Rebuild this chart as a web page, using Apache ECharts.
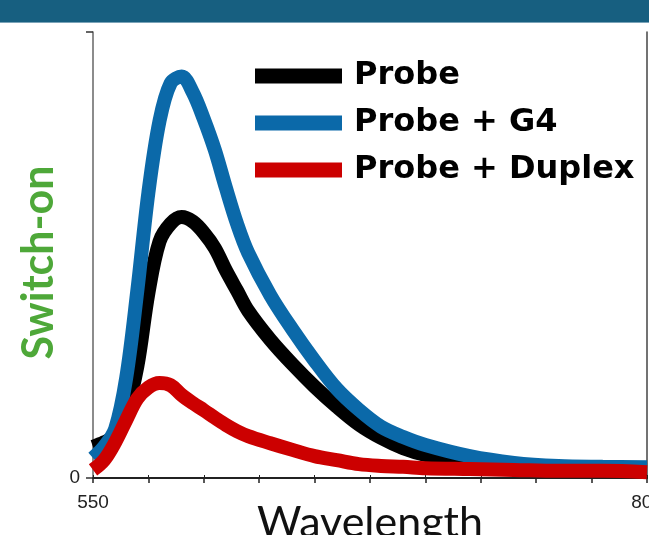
<!DOCTYPE html>
<html>
<head>
<meta charset="utf-8">
<script src="https://cdn.jsdelivr.net/npm/echarts@6/dist/echarts.min.js"></script>
<style>
  html, body { margin: 0; padding: 0; background: #fff; }
  #main { width: 649px; height: 535px; }
</style>
</head>
<body>
<div id="main"></div>
<script>
// wavelength (nm) sampled along the spectra
var wavelengths = [550, 555, 560, 565, 570, 575, 580, 585, 590, 595, 600, 605, 610, 615, 620,
  630, 640, 650, 660, 670, 680, 690, 700, 720, 740, 760, 780, 800];

// emission intensity (a.u.)
var probe = [7.0, 8.0, 9.5, 15.0, 25.0, 41.5, 53.0, 57.0, 58.5, 57.5, 55.0, 51.5, 46.5, 42.0, 37.5,
  31.0, 25.5, 20.5, 16.0, 12.0, 9.0, 6.7, 5.2, 3.4, 2.6, 2.2, 2.0, 1.9];
var probeG4 = [4.5, 7.0, 11.0, 22.5, 42.0, 64.0, 80.0, 88.5, 90.0, 86.5, 80.5, 73.5, 65.0, 57.0, 50.5,
  41.0, 33.3, 26.3, 20.0, 15.3, 11.5, 9.2, 7.4, 4.9, 3.4, 2.7, 2.5, 2.4];
var probeDuplex = [1.8, 4.0, 8.0, 13.0, 17.8, 20.3, 21.3, 20.8, 18.6, 16.8, 15.2, 13.5, 11.9, 10.5, 9.4,
  7.8, 6.3, 4.9, 4.0, 3.1, 2.7, 2.5, 2.2, 2.0, 1.8, 1.6, 1.6, 1.3];

var seriesNames = ['Probe', 'Probe + G4', 'Probe + Duplex'];
var seriesColors = ['#000000', '#0b69a9', '#cc0000'];

function pairs(ys) {
  return wavelengths.map(function (w, i) { return [w, ys[i]]; });
}

var chart = echarts.init(document.getElementById('main'));

var option = {
  animation: false,
  color: seriesColors,
  graphic: [
    { type: 'rect', left: 0, top: 0, shape: { width: 649, height: 22 }, style: { fill: '#175f80' } },
    { type: 'rect', left: 0, top: 22, shape: { width: 649, height: 1 }, style: { fill: '#7aa3b8' } }
  ],
  grid: { left: 93, right: 2, top: 32, bottom: 57, outerBoundsMode: 'none', containLabel: false },
  legend: {
    data: seriesNames,
    orient: 'vertical',
    left: 250,
    top: 55,
    icon: 'rect',
    itemWidth: 87,
    itemHeight: 15,
    itemGap: 15,
    textStyle: {
      fontFamily: 'DejaVu Sans',
      fontWeight: 'bold',
      fontSize: 32,
      lineHeight: 32,
      color: '#000',
      padding: [0, 0, 0, 7]
    }
  },
  xAxis: [{
    type: 'value',
    min: 550,
    max: 800,
    interval: 25,
    name: 'Wavelength',
    nameLocation: 'middle',
    nameGap: 24,
    nameMoveOverlap: false,
    nameTextStyle: { fontFamily: 'Lato', fontSize: 43, color: '#111' },
    axisLine: { lineStyle: { color: '#222', width: 2 } },
    axisTick: { length: 5, lineStyle: { color: '#222', width: 1.5 } },
    axisLabel: {
      fontFamily: 'Liberation Sans', fontSize: 19, color: '#222', margin: 15,
      formatter: function (v) { return (v === 550 || v === 800) ? String(v) : ''; }
    },
    splitLine: { show: false }
  }, {
    type: 'value',
    position: 'top',
    min: 550,
    max: 800,
    interval: 25,
    axisLine: { lineStyle: { color: '#222', width: 1.5 } },
    axisTick: { length: 3, lineStyle: { color: '#222' } },
    axisLabel: { show: false },
    splitLine: { show: false }
  }],
  yAxis: [{
    type: 'value',
    min: 0,
    max: 100,
    interval: 100,
    name: 'Switch-on',
    nameLocation: 'middle',
    nameRotate: 90,
    nameGap: 32,
    nameMoveOverlap: false,
    nameTextStyle: { fontFamily: 'Lato', fontWeight: 'bold', fontSize: 43, color: '#4ea839',
      padding: [0, 15, 0, 0] },
    axisLine: { show: true, lineStyle: { color: '#666', width: 1.5 } },
    axisTick: { show: true, length: 7, lineStyle: { color: '#333', width: 1.5 } },
    axisLabel: {
      fontFamily: 'Liberation Sans', fontSize: 19, color: '#222', margin: 13,
      formatter: function (v) { return v === 0 ? '0' : ''; }
    },
    splitLine: { show: false }
  }, {
    type: 'value',
    position: 'right',
    min: 0,
    max: 100,
    interval: 100,
    axisLine: { show: true, lineStyle: { color: '#444', width: 1.5 } },
    axisTick: { show: false },
    axisLabel: { show: false },
    splitLine: { show: false }
  }],
  series: [
    { name: seriesNames[0], type: 'line', data: pairs(probe), smooth: 0.35,
      showSymbol: false, lineStyle: { width: 14 }, z: 2 },
    { name: seriesNames[1], type: 'line', data: pairs(probeG4), smooth: 0.35,
      showSymbol: false, lineStyle: { width: 14 }, z: 3 },
    { name: seriesNames[2], type: 'line', data: pairs(probeDuplex), smooth: 0.35,
      showSymbol: false, lineStyle: { width: 14 }, z: 4 }
  ]
};

chart.setOption(option);
</script>
</body>
</html>
